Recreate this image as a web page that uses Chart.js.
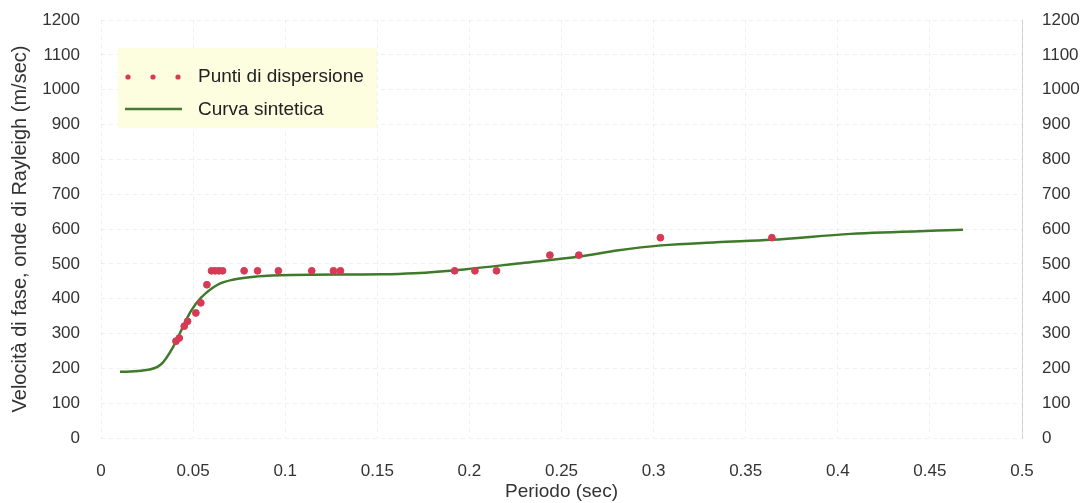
<!DOCTYPE html>
<html>
<head>
<meta charset="utf-8">
<script src="https://cdn.jsdelivr.net/npm/chart.js@4"></script>
<style>
  body { margin: 0; background: #fff; }
  #wrap { position: relative; width: 1090px; height: 503px; }
</style>
</head>
<body>
<div id="wrap"><canvas id="chart" width="1090" height="503"></canvas></div>
<script>
// Punti di dispersione (periodo sec, velocita m/sec)
const puntiX = [0.0407, 0.0425, 0.0452, 0.047, 0.0515, 0.0542, 0.0575, 0.060, 0.062, 0.064, 0.066,
  0.0777, 0.085, 0.0963, 0.1144, 0.1262, 0.130, 0.192, 0.203, 0.2147, 0.2437, 0.2594, 0.3037, 0.3642];
const puntiY = [278, 287, 321, 335, 359, 388, 440, 480, 480, 480, 480,
  480, 480, 480, 480, 480, 480, 480, 480, 480, 525, 525, 575, 575];

// Curva sintetica
const curvaX = [0.0103, 0.0217, 0.0325, 0.0389, 0.0434, 0.0488, 0.0542, 0.0633, 0.0721, 0.085, 0.103,
  0.152, 0.17, 0.197, 0.228, 0.26, 0.28, 0.304, 0.334, 0.364, 0.407, 0.468];
const curvaY = [190, 193, 211, 259, 307, 364, 402, 440, 455, 464, 468,
  470, 473, 484, 502, 521, 538, 553, 562, 569, 586, 598];

const yTicks = [0, 100, 200, 300, 400, 500, 600, 700, 800, 900, 1000, 1100, 1200];

const tickFont = { family: "'Liberation Sans', Arial, sans-serif", size: 17 };
const titleFont = { family: "'Liberation Sans', Arial, sans-serif", size: 19 };
const textColor = '#333';
const fmt = v => String(+Number(v).toFixed(2));

// legend box drawn inside the plot
const legendBox = {
  id: 'legendBox',
  afterDatasetsDraw(chart) {
    const ctx = chart.ctx;
    ctx.save();
    ctx.fillStyle = '#fdfde0';
    ctx.fillRect(118, 48, 259, 80);
    ctx.fillStyle = '#d63a55';
    [128, 153, 178].forEach(x => {
      ctx.beginPath();
      ctx.arc(x, 77, 2.6, 0, Math.PI * 2);
      ctx.fill();
    });
    ctx.strokeStyle = '#4a7a30';
    ctx.lineWidth = 2.5;
    ctx.beginPath();
    ctx.moveTo(125, 109);
    ctx.lineTo(182, 109);
    ctx.stroke();
    ctx.fillStyle = '#222';
    ctx.font = "19px 'Liberation Sans', Arial, sans-serif";
    ctx.textBaseline = 'middle';
    ctx.fillText('Punti di dispersione', 198, 77);
    ctx.fillText('Curva sintetica', 198, 110);
    ctx.restore();
  }
};

// fixed axis sizes so the plot area matches the reference
const fitY = w => s => { s.width = w; s.paddingTop = 0; s.paddingBottom = 0; };

new Chart(document.getElementById('chart'), {
  type: 'scatter',
  data: {
    datasets: [
      {
        label: 'Curva sintetica',
        type: 'line',
        data: curvaX.map((x, i) => ({ x: x, y: curvaY[i] })),
        borderColor: '#3f7a2a',
        borderWidth: 2.5,
        pointRadius: 0,
        cubicInterpolationMode: 'monotone',
        order: 2
      },
      {
        label: 'Punti di dispersione',
        data: puntiX.map((x, i) => ({ x: x, y: puntiY[i] })),
        backgroundColor: '#d63a55',
        borderColor: '#d63a55',
        pointRadius: 3.4,
        order: 1
      }
    ]
  },
  options: {
    responsive: false,
    animation: false,
    layout: { padding: { top: 20, right: 0, left: 0, bottom: 0 } },
    plugins: { legend: { display: false }, tooltip: { enabled: false } },
    scales: {
      x: {
        type: 'linear',
        min: 0,
        max: 0.5,
        afterFit: s => { s.height = 65; s.paddingLeft = 0; s.paddingRight = 0; },
        ticks: { stepSize: 0.05, font: tickFont, color: textColor, padding: 23, callback: fmt },
        grid: { color: 'rgba(0,0,0,0.06)', drawTicks: false },
        border: { display: false, dash: [4, 4] },
        title: { display: true, text: 'Periodo (sec)', font: titleFont, color: textColor, padding: { top: 0, bottom: 0 } }
      },
      y: {
        min: 0,
        max: 1200,
        afterFit: fitY(101),
        afterBuildTicks: s => { s.ticks = yTicks.map(v => ({ value: v })); },
        ticks: { font: tickFont, color: textColor, padding: 21, callback: fmt },
        grid: { color: 'rgba(0,0,0,0.06)', drawTicks: false },
        border: { display: false, dash: [4, 4] },
        title: { display: true, text: 'Velocità di fase, onde di Rayleigh (m/sec)', font: { family: titleFont.family, size: 20 }, color: textColor, padding: { top: 8, bottom: 0 } }
      },
      y2: {
        position: 'right',
        min: 0,
        max: 1200,
        afterFit: fitY(68),
        afterBuildTicks: s => { s.ticks = yTicks.map(v => ({ value: v })); },
        ticks: { font: tickFont, color: textColor, padding: 20, callback: fmt },
        grid: { display: false, drawTicks: false },
        border: { display: true, color: 'rgba(0,0,0,0.15)', dash: [4, 3] }
      }
    }
  },
  plugins: [legendBox]
});
</script>
</body>
</html>
